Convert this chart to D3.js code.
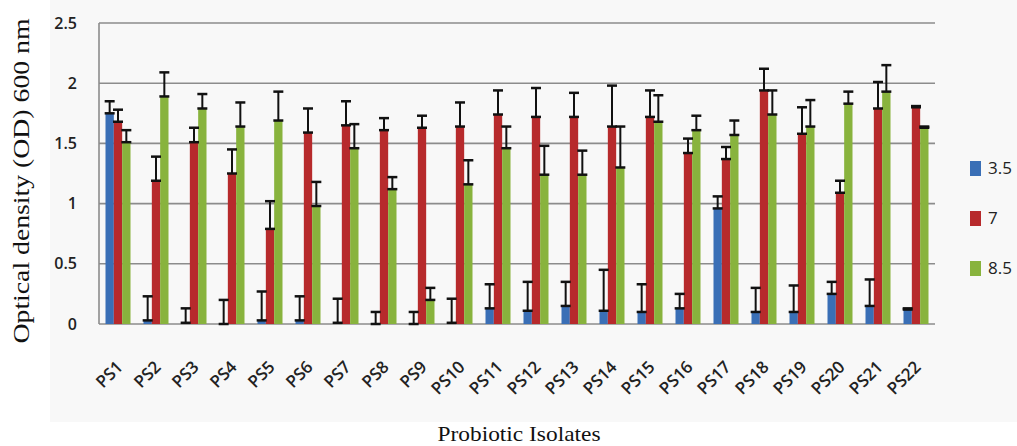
<!DOCTYPE html>
<html>
<head>
<meta charset="utf-8">
<script src="https://cdn.jsdelivr.net/npm/d3@7/dist/d3.min.js"></script>
<style>
  html, body { margin: 0; padding: 0; background: #ffffff; }
  svg { display: block; }
</style>
</head>
<body>
<div id="chart"></div>
<script>
// ---------------------------
// Data
// ---------------------------
const isolates = ['PS1','PS2','PS3','PS4','PS5','PS6','PS7','PS8','PS9','PS10','PS11',
  'PS12','PS13','PS14','PS15','PS16','PS17','PS18','PS19','PS20','PS21','PS22'];
const phLevels = ['3.5', '7', '8.5'];

const od35 = [1.75, 0.03, 0.01, 0.00, 0.03, 0.03, 0.01, 0.00, 0.00, 0.01, 0.13,
  0.11, 0.15, 0.11, 0.10, 0.13, 0.96, 0.10, 0.10, 0.25, 0.15, 0.12];
const od7 = [1.68, 1.19, 1.51, 1.25, 0.79, 1.59, 1.65, 1.61, 1.63, 1.64, 1.74,
  1.72, 1.72, 1.64, 1.72, 1.42, 1.37, 1.94, 1.58, 1.09, 1.79, 1.80];
const od85 = [1.51, 1.89, 1.79, 1.64, 1.69, 0.98, 1.46, 1.12, 0.20, 1.16, 1.46,
  1.24, 1.24, 1.30, 1.68, 1.61, 1.57, 1.74, 1.64, 1.83, 1.93, 1.63];

const err35 = [0.10, 0.20, 0.12, 0.20, 0.24, 0.20, 0.20, 0.10, 0.10, 0.20, 0.20,
  0.24, 0.20, 0.34, 0.23, 0.12, 0.10, 0.20, 0.22, 0.10, 0.22, 0.01];
const err7 = [0.10, 0.20, 0.12, 0.20, 0.23, 0.20, 0.20, 0.10, 0.10, 0.20, 0.20,
  0.24, 0.20, 0.34, 0.22, 0.12, 0.10, 0.18, 0.22, 0.10, 0.22, 0.01];
const err85 = [0.10, 0.20, 0.12, 0.20, 0.24, 0.20, 0.20, 0.10, 0.10, 0.20, 0.18,
  0.24, 0.20, 0.34, 0.22, 0.12, 0.12, 0.20, 0.22, 0.10, 0.22, 0.01];

const yTicks = [0, 0.5, 1, 1.5, 2, 2.5];
const colors = ['#3a6fb6', '#b72a2c', '#88b33d'];

// ---------------------------
// Dimensions
// ---------------------------
const width = 1017, height = 446;
const plot = { left: 99, right: 935, top: 23, bottom: 324 };

const svg = d3.select('#chart').append('svg')
  .attr('width', width)
  .attr('height', height);

// fond gris clair du graphique
svg.append('rect')
  .attr('x', 50).attr('y', 0)
  .attr('width', width - 50).attr('height', 422)
  .attr('fill', '#f8f8f8');

// ---------------------------
// Scales
// ---------------------------
const x = d3.scaleBand()
  .domain(isolates)
  .range([plot.left, plot.right])
  .paddingInner(0.342)
  .paddingOuter(0.171);

const xSeries = d3.scaleBand()
  .domain(phLevels)
  .range([0, x.bandwidth()]);

const y = d3.scaleLinear()
  .domain([0, 2.5])
  .range([plot.bottom, plot.top]);

const color = d3.scaleOrdinal().domain(phLevels).range(colors);

// ---------------------------
// Grid + axes
// ---------------------------
const grid = svg.append('g');
grid.selectAll('line')
  .data(yTicks)
  .enter()
  .append('line')
  .attr('x1', plot.left)
  .attr('x2', plot.right)
  .attr('y1', d => y(d))
  .attr('y2', d => y(d))
  .attr('stroke', '#8c8c8c')
  .attr('stroke-width', 1.6);

svg.append('line')
  .attr('x1', plot.left).attr('x2', plot.left)
  .attr('y1', y(2.5)).attr('y2', y(0))
  .attr('stroke', '#8c8c8c')
  .attr('stroke-width', 1.6);

const yAxis = svg.append('g')
  .attr('transform', `translate(${plot.left},0)`)
  .call(d3.axisLeft(y).tickValues(yTicks).tickSize(0).tickPadding(22).tickFormat(d3.format('')));
yAxis.select('.domain').remove();
yAxis.selectAll('text')
  .attr('font-family', '"Open Sans", sans-serif')
  .attr('font-size', 16)
  .attr('font-weight', 600)
  .attr('fill', '#222');

// ---------------------------
// Bars
// ---------------------------
const rows = isolates.map((name, i) => ({
  name,
  values: [
    { key: phLevels[0], v: od35[i], e: err35[i] },
    { key: phLevels[1], v: od7[i], e: err7[i] },
    { key: phLevels[2], v: od85[i], e: err85[i] }
  ]
}));

const groups = svg.append('g').selectAll('g')
  .data(rows)
  .enter()
  .append('g')
  .attr('transform', d => `translate(${x(d.name)},0)`);

groups.selectAll('rect')
  .data(d => d.values)
  .enter()
  .append('rect')
  .attr('x', d => xSeries(d.key))
  .attr('width', xSeries.bandwidth())
  .attr('y', d => y(d.v))
  .attr('height', d => y(0) - y(d.v))
  .attr('fill', d => color(d.key));

// ---------------------------
// Error bars (plus seulement)
// ---------------------------
const capW = 5;
const errs = groups.selectAll('g.err')
  .data(d => d.values)
  .enter()
  .append('g')
  .attr('class', 'err')
  .attr('stroke', '#111')
  .attr('stroke-width', 2);

errs.append('line')
  .attr('x1', d => xSeries(d.key) + xSeries.bandwidth() / 2)
  .attr('x2', d => xSeries(d.key) + xSeries.bandwidth() / 2)
  .attr('y1', d => y(d.v))
  .attr('y2', d => y(d.v + d.e));

errs.append('line')
  .attr('x1', d => xSeries(d.key) + xSeries.bandwidth() / 2 - capW)
  .attr('x2', d => xSeries(d.key) + xSeries.bandwidth() / 2 + capW)
  .attr('y1', d => y(d.v + d.e))
  .attr('y2', d => y(d.v + d.e))
  .attr('stroke-width', 2.5);

errs.append('line')
  .attr('x1', d => xSeries(d.key) + xSeries.bandwidth() / 2 - capW)
  .attr('x2', d => xSeries(d.key) + xSeries.bandwidth() / 2 + capW)
  .attr('y1', d => y(d.v))
  .attr('y2', d => y(d.v))
  .attr('stroke-width', 2.5);

// ---------------------------
// X labels (rotated)
// ---------------------------
svg.append('g').selectAll('text')
  .data(isolates)
  .enter()
  .append('text')
  .attr('transform', d => `translate(${x(d) + x.bandwidth() / 2 + 6},368) rotate(-45)`)
  .attr('text-anchor', 'end')
  .attr('font-family', '"Open Sans", sans-serif')
  .attr('font-size', 17)
  .attr('font-weight', 600)
  .attr('fill', '#222')
  .text(d => d);

// ---------------------------
// Titles
// ---------------------------
svg.append('text')
  .attr('transform', `translate(29,181) rotate(-90)`)
  .attr('text-anchor', 'middle')
  .attr('font-family', '"Liberation Serif", "Times New Roman", serif')
  .attr('font-size', 24)
  .attr('fill', '#111')
  .attr('textLength', 325)
  .attr('lengthAdjust', 'spacingAndGlyphs')
  .text('Optical density (OD) 600 nm');

svg.append('text')
  .attr('x', 519)
  .attr('y', 441)
  .attr('text-anchor', 'middle')
  .attr('font-family', '"Liberation Serif", "Times New Roman", serif')
  .attr('font-size', 22)
  .attr('fill', '#111')
  .attr('textLength', 163)
  .attr('lengthAdjust', 'spacingAndGlyphs')
  .text('Probiotic Isolates');

// ---------------------------
// Legend
// ---------------------------
const legend = svg.append('g').selectAll('g')
  .data(phLevels)
  .enter()
  .append('g')
  .attr('transform', (d, i) => `translate(970,${168 + i * 50})`);

legend.append('rect')
  .attr('x', 0).attr('y', -7)
  .attr('width', 11).attr('height', 15)
  .attr('fill', d => color(d));

legend.append('text')
  .attr('x', 18)
  .attr('y', 0)
  .attr('dy', '0.35em')
  .attr('font-family', '"Open Sans", sans-serif')
  .attr('font-size', 17)
  .attr('fill', '#222')
  .text(d => d);
</script>
</body>
</html>
